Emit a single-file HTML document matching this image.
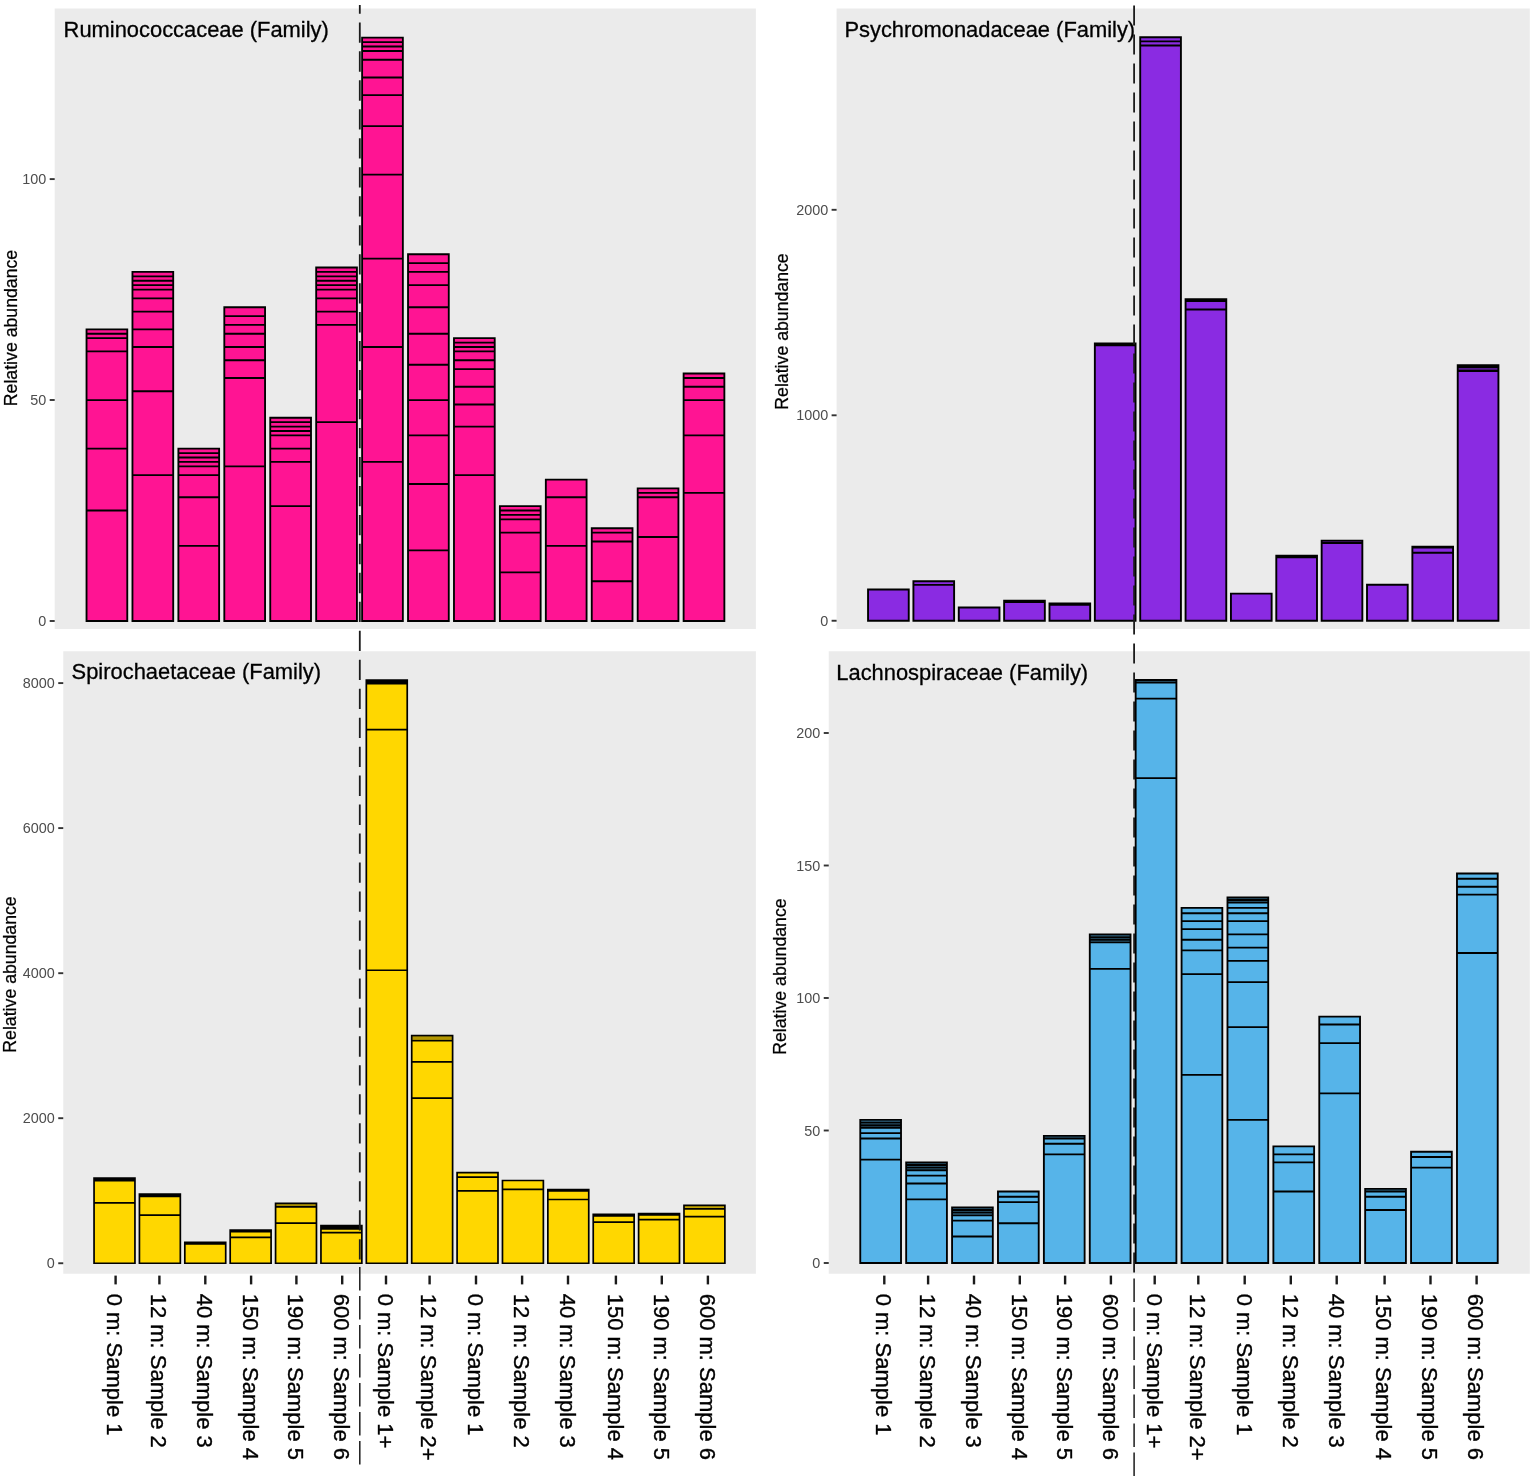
<!DOCTYPE html>
<html lang="en">
<head>
<meta charset="utf-8">
<title>Relative abundance by family</title>
<style>
html,body{margin:0;padding:0;background:#fff;}
body{width:1535px;height:1480px;overflow:hidden;}
svg{display:block;}
text{font-family:"Liberation Sans",Arial,Helvetica,sans-serif;}
.ttl{font-size:21.9px;fill:#000;stroke:#000;stroke-width:0.3px;}
.xl{font-size:22px;fill:#000;stroke:#000;stroke-width:0.35px;}
.yt{font-size:14.4px;fill:#4D4D4D;}
.yl{font-size:17.7px;fill:#000;stroke:#000;stroke-width:0.25px;}
</style>
</head>
<body>
<svg width="1535" height="1480" viewBox="0 0 1535 1480">
<rect width="1535" height="1480" fill="#fff"/>
<!-- panel 1 -->
<rect x="54.7" y="8.5" width="701.2" height="620.5" fill="#EBEBEB"/>
<g fill="#FF1493" stroke="#000" stroke-width="1.85" stroke-linejoin="miter">
<path d="M86.53 329.35H127.28V621H86.53ZM86.53 333.77H127.28M86.53 338.18H127.28M86.53 351.44H127.28M86.53 400.05H127.28M86.53 448.66H127.28M86.53 510.52H127.28"/>
<path d="M132.46 271.9H173.21V621H132.46ZM132.46 276.32H173.21M132.46 280.74H173.21M132.46 285.16H173.21M132.46 289.58H173.21M132.46 298.41H173.21M132.46 311.67H173.21M132.46 329.35H173.21M132.46 347.02H173.21M132.46 391.21H173.21M132.46 475.17H173.21"/>
<path d="M178.38 448.66H219.13V621H178.38ZM178.38 453.08H219.13M178.38 457.5H219.13M178.38 461.92H219.13M178.38 466.34H219.13M178.38 475.17H219.13M178.38 497.27H219.13M178.38 545.88H219.13"/>
<path d="M224.31 307.25H265.06V621H224.31ZM224.31 316.09H265.06M224.31 324.93H265.06M224.31 333.77H265.06M224.31 347.02H265.06M224.31 360.28H265.06M224.31 377.96H265.06M224.31 466.34H265.06"/>
<path d="M270.25 417.73H311V621H270.25ZM270.25 422.14H311M270.25 426.56H311M270.25 430.98H311M270.25 435.4H311M270.25 448.66H311M270.25 461.92H311M270.25 506.11H311"/>
<path d="M316.18 267.48H356.93V621H316.18ZM316.18 271.9H356.93M316.18 276.32H356.93M316.18 280.74H356.93M316.18 285.16H356.93M316.18 289.58H356.93M316.18 298.41H356.93M316.18 311.67H356.93M316.18 324.93H356.93M316.18 422.14H356.93"/>
<path d="M362.11 37.69H402.86V621H362.11ZM362.11 42.11H402.86M362.11 46.53H402.86M362.11 50.95H402.86M362.11 59.79H402.86M362.11 77.46H402.86M362.11 95.14H402.86M362.11 126.07H402.86M362.11 174.68H402.86M362.11 258.64H402.86M362.11 347.02H402.86M362.11 461.92H402.86"/>
<path d="M408.03 254.22H448.78V621H408.03ZM408.03 263.06H448.78M408.03 271.9H448.78M408.03 285.16H448.78M408.03 307.25H448.78M408.03 333.77H448.78M408.03 364.7H448.78M408.03 400.05H448.78M408.03 435.4H448.78M408.03 484.01H448.78M408.03 550.3H448.78"/>
<path d="M453.97 338.18H494.72V621H453.97ZM453.97 342.6H494.72M453.97 347.02H494.72M453.97 351.44H494.72M453.97 360.28H494.72M453.97 369.12H494.72M453.97 386.79H494.72M453.97 404.47H494.72M453.97 426.56H494.72M453.97 475.17H494.72"/>
<path d="M499.89 506.11H540.64V621H499.89ZM499.89 510.52H540.64M499.89 514.94H540.64M499.89 519.36H540.64M499.89 532.62H540.64M499.89 572.39H540.64"/>
<path d="M545.83 479.59H586.58V621H545.83ZM545.83 497.27H586.58M545.83 545.88H586.58"/>
<path d="M591.75 528.2H632.5V621H591.75ZM591.75 532.62H632.5M591.75 541.46H632.5M591.75 581.23H632.5"/>
<path d="M637.68 488.43H678.43V621H637.68ZM637.68 492.85H678.43M637.68 497.27H678.43M637.68 537.04H678.43"/>
<path d="M683.62 373.54H724.37V621H683.62ZM683.62 377.96H724.37M683.62 386.79H724.37M683.62 400.05H724.37M683.62 435.4H724.37M683.62 492.85H724.37"/>
</g>
<text class="ttl" x="63.6" y="37.1">Ruminococcaceae (Family)</text>
<line x1="49.7" x2="54.7" y1="621" y2="621" stroke="#333" stroke-width="1.9"/>
<text class="yt" x="46.3" y="626" text-anchor="end">0</text>
<line x1="49.7" x2="54.7" y1="400" y2="400" stroke="#333" stroke-width="1.9"/>
<text class="yt" x="46.3" y="405" text-anchor="end">50</text>
<line x1="49.7" x2="54.7" y1="179.1" y2="179.1" stroke="#333" stroke-width="1.9"/>
<text class="yt" x="46.3" y="184.1" text-anchor="end">100</text>
<text class="yl" transform="translate(17.3 328) rotate(-90)" text-anchor="middle">Relative abundance</text>
<!-- panel 2 -->
<rect x="836.6" y="8.5" width="693.2" height="620.5" fill="#EBEBEB"/>
<g fill="#8A2BE2" stroke="#000" stroke-width="1.9" stroke-linejoin="miter">
<path d="M868.05 589.5H908.75V620.75H868.05Z"/>
<path d="M913.41 581.3H954.11V620.75H913.41ZM913.41 584.85H954.11"/>
<path d="M958.77 607.5H999.47V620.75H958.77Z"/>
<path d="M1004.13 600.7H1044.83V620.75H1004.13ZM1004.13 602H1044.83"/>
<path d="M1049.49 603.5H1090.19V620.75H1049.49ZM1049.49 604.7H1090.19"/>
<path d="M1094.85 343.5H1135.55V620.75H1094.85ZM1094.85 345.3H1135.55"/>
<path d="M1140.21 37.3H1180.91V620.75H1140.21ZM1140.21 41.4H1180.91M1140.21 45.5H1180.91"/>
<path d="M1185.57 299.2H1226.27V620.75H1185.57ZM1185.57 301H1226.27M1185.57 309.5H1226.27"/>
<path d="M1230.93 593.6H1271.63V620.75H1230.93Z"/>
<path d="M1276.29 555.6H1316.99V620.75H1276.29ZM1276.29 557.2H1316.99"/>
<path d="M1321.65 540.6H1362.35V620.75H1321.65ZM1321.65 543H1362.35"/>
<path d="M1321.65 541.8H1362.35" stroke-width="0.7" stroke-opacity="0.6"/>
<path d="M1367.01 584.7H1407.71V620.75H1367.01Z"/>
<path d="M1412.37 546.6H1453.07V620.75H1412.37ZM1412.37 547.6H1453.07M1412.37 552.7H1453.07"/>
<path d="M1457.73 365.2H1498.43V620.75H1457.73ZM1457.73 367H1498.43M1457.73 371H1498.43"/>
<path d="M1457.73 369.1H1498.43" stroke-width="1.9" stroke-opacity="0.5"/>
</g>
<text class="ttl" x="844.4" y="37.1">Psychromonadaceae (Family)</text>
<line x1="831.6" x2="836.6" y1="620.75" y2="620.75" stroke="#333" stroke-width="1.9"/>
<text class="yt" x="828.2" y="625.75" text-anchor="end">0</text>
<line x1="831.6" x2="836.6" y1="415.3" y2="415.3" stroke="#333" stroke-width="1.9"/>
<text class="yt" x="828.2" y="420.3" text-anchor="end">1000</text>
<line x1="831.6" x2="836.6" y1="209.8" y2="209.8" stroke="#333" stroke-width="1.9"/>
<text class="yt" x="828.2" y="214.8" text-anchor="end">2000</text>
<text class="yl" transform="translate(788 331.5) rotate(-90)" text-anchor="middle">Relative abundance</text>
<!-- panel 3 -->
<rect x="63.25" y="651.25" width="692.65" height="622.5" fill="#EBEBEB"/>
<g fill="#FFD700" stroke="#000" stroke-width="1.7" stroke-linejoin="miter">
<path d="M94.05 1178.1H134.95V1263.25H94.05ZM94.05 1179.4H134.95M94.05 1180.6H134.95M94.05 1202.8H134.95"/>
<path d="M139.43 1194.1H180.33V1263.25H139.43ZM139.43 1195.3H180.33M139.43 1196.4H180.33M139.43 1215.1H180.33"/>
<path d="M184.81 1242.4H225.71V1263.25H184.81ZM184.81 1243.8H225.71"/>
<path d="M230.19 1230.1H271.09V1263.25H230.19ZM230.19 1231.7H271.09M230.19 1237.4H271.09"/>
<path d="M275.57 1203.4H316.47V1263.25H275.57ZM275.57 1206.9H316.47M275.57 1223.2H316.47"/>
<path d="M275.57 1205.1H316.47" stroke-width="1.6" stroke-opacity="0.35"/>
<path d="M320.95 1225.6H361.85V1263.25H320.95ZM320.95 1227.2H361.85M320.95 1228.8H361.85M320.95 1232.6H361.85"/>
<path d="M366.33 680.2H407.23V1263.25H366.33ZM366.33 681.9H407.23M366.33 683.6H407.23M366.33 729.6H407.23M366.33 970.25H407.23"/>
<path d="M411.71 1035.6H452.61V1263.25H411.71ZM411.71 1040.6H452.61M411.71 1061.9H452.61M411.71 1098.2H452.61"/>
<path d="M411.71 1038.1H452.61" stroke-width="3" stroke-opacity="0.3"/>
<path d="M457.09 1172.7H497.99V1263.25H457.09ZM457.09 1177.2H497.99M457.09 1190.9H497.99"/>
<path d="M502.47 1180.5H543.37V1263.25H502.47ZM502.47 1189.3H543.37"/>
<path d="M547.85 1189.6H588.75V1263.25H547.85ZM547.85 1190.8H588.75M547.85 1199.5H588.75"/>
<path d="M593.23 1214.4H634.13V1263.25H593.23ZM593.23 1215.8H634.13M593.23 1222.1H634.13"/>
<path d="M638.61 1213.5H679.51V1263.25H638.61ZM638.61 1215H679.51M638.61 1219.6H679.51"/>
<path d="M683.99 1205.3H724.89V1263.25H683.99ZM683.99 1208.9H724.89M683.99 1216.7H724.89"/>
<path d="M683.99 1207H724.89" stroke-width="1.6" stroke-opacity="0.3"/>
</g>
<text class="ttl" x="71.6" y="679.3">Spirochaetaceae (Family)</text>
<line x1="58.25" x2="63.25" y1="1263.25" y2="1263.25" stroke="#333" stroke-width="1.9"/>
<text class="yt" x="54.85" y="1268.25" text-anchor="end">0</text>
<line x1="58.25" x2="63.25" y1="1118.2" y2="1118.2" stroke="#333" stroke-width="1.9"/>
<text class="yt" x="54.85" y="1123.2" text-anchor="end">2000</text>
<line x1="58.25" x2="63.25" y1="973.2" y2="973.2" stroke="#333" stroke-width="1.9"/>
<text class="yt" x="54.85" y="978.2" text-anchor="end">4000</text>
<line x1="58.25" x2="63.25" y1="828.1" y2="828.1" stroke="#333" stroke-width="1.9"/>
<text class="yt" x="54.85" y="833.1" text-anchor="end">6000</text>
<line x1="58.25" x2="63.25" y1="683.1" y2="683.1" stroke="#333" stroke-width="1.9"/>
<text class="yt" x="54.85" y="688.1" text-anchor="end">8000</text>
<text class="yl" transform="translate(16.2 974.5) rotate(-90)" text-anchor="middle">Relative abundance</text>
<!-- panel 4 -->
<rect x="828.75" y="651.25" width="701.05" height="622.5" fill="#EBEBEB"/>
<g fill="#56B4E9" stroke="#000" stroke-width="1.85" stroke-linejoin="miter">
<path d="M860.27 1119.9H901.02V1263H860.27ZM860.27 1122.55H901.02M860.27 1125.2H901.02M860.27 1127.85H901.02M860.27 1133.15H901.02M860.27 1138.45H901.02M860.27 1159.65H901.02"/>
<path d="M860.27 1121.22H901.02" stroke-width="1" stroke-opacity="0.6"/>
<path d="M860.27 1123.88H901.02" stroke-width="1" stroke-opacity="0.6"/>
<path d="M860.27 1126.53H901.02" stroke-width="1" stroke-opacity="0.6"/>
<path d="M906.17 1162.3H946.92V1263H906.17ZM906.17 1164.95H946.92M906.17 1167.6H946.92M906.17 1170.25H946.92M906.17 1175.55H946.92M906.17 1183.5H946.92M906.17 1199.4H946.92"/>
<path d="M906.17 1163.62H946.92" stroke-width="1" stroke-opacity="0.6"/>
<path d="M906.17 1166.28H946.92" stroke-width="1" stroke-opacity="0.6"/>
<path d="M906.17 1168.92H946.92" stroke-width="1" stroke-opacity="0.6"/>
<path d="M952.07 1207.35H992.82V1263H952.07ZM952.07 1210H992.82M952.07 1212.65H992.82M952.07 1215.3H992.82M952.07 1220.6H992.82M952.07 1236.5H992.82"/>
<path d="M952.07 1208.67H992.82" stroke-width="1" stroke-opacity="0.6"/>
<path d="M952.07 1211.33H992.82" stroke-width="1" stroke-opacity="0.6"/>
<path d="M952.07 1213.97H992.82" stroke-width="1" stroke-opacity="0.6"/>
<path d="M997.97 1191.45H1038.72V1263H997.97ZM997.97 1196.75H1038.72M997.97 1202.05H1038.72M997.97 1223.25H1038.72"/>
<path d="M1043.88 1135.8H1084.62V1263H1043.88ZM1043.88 1138.45H1084.62M1043.88 1143.75H1084.62M1043.88 1154.35H1084.62"/>
<path d="M1043.88 1137.12H1084.62" stroke-width="1" stroke-opacity="0.6"/>
<path d="M1089.78 934.4H1130.53V1263H1089.78ZM1089.78 937.05H1130.53M1089.78 939.7H1130.53M1089.78 942.35H1130.53M1089.78 968.85H1130.53"/>
<path d="M1089.78 935.73H1130.53" stroke-width="1" stroke-opacity="0.6"/>
<path d="M1089.78 938.38H1130.53" stroke-width="1" stroke-opacity="0.6"/>
<path d="M1089.78 941.03H1130.53" stroke-width="1" stroke-opacity="0.6"/>
<path d="M1135.67 680H1176.42V1263H1135.67ZM1135.67 682.65H1176.42M1135.67 698.55H1176.42M1135.67 778.05H1176.42"/>
<path d="M1135.67 681.33H1176.42" stroke-width="1" stroke-opacity="0.6"/>
<path d="M1181.58 907.9H1222.33V1263H1181.58ZM1181.58 913.2H1222.33M1181.58 921.15H1222.33M1181.58 929.1H1222.33M1181.58 939.7H1222.33M1181.58 950.3H1222.33M1181.58 974.15H1222.33M1181.58 1074.85H1222.33"/>
<path d="M1227.47 897.3H1268.22V1263H1227.47ZM1227.47 899.95H1268.22M1227.47 902.6H1268.22M1227.47 907.9H1268.22M1227.47 913.2H1268.22M1227.47 921.15H1268.22M1227.47 934.4H1268.22M1227.47 947.65H1268.22M1227.47 960.9H1268.22M1227.47 982.1H1268.22M1227.47 1027.15H1268.22M1227.47 1119.9H1268.22"/>
<path d="M1227.47 898.62H1268.22" stroke-width="1" stroke-opacity="0.6"/>
<path d="M1227.47 901.28H1268.22" stroke-width="1" stroke-opacity="0.6"/>
<path d="M1273.38 1146.4H1314.12V1263H1273.38ZM1273.38 1154.35H1314.12M1273.38 1162.3H1314.12M1273.38 1191.45H1314.12"/>
<path d="M1319.28 1016.55H1360.03V1263H1319.28ZM1319.28 1024.5H1360.03M1319.28 1043.05H1360.03M1319.28 1093.4H1360.03"/>
<path d="M1365.17 1188.8H1405.92V1263H1365.17ZM1365.17 1191.45H1405.92M1365.17 1196.75H1405.92M1365.17 1210H1405.92"/>
<path d="M1365.17 1190.12H1405.92" stroke-width="1" stroke-opacity="0.6"/>
<path d="M1411.07 1151.7H1451.82V1263H1411.07ZM1411.07 1157H1451.82M1411.07 1167.6H1451.82"/>
<path d="M1456.97 873.45H1497.72V1263H1456.97ZM1456.97 878.75H1497.72M1456.97 886.7H1497.72M1456.97 894.65H1497.72M1456.97 952.95H1497.72"/>
</g>
<text class="ttl" x="836.3" y="679.5">Lachnospiraceae (Family)</text>
<line x1="823.75" x2="828.75" y1="1263" y2="1263" stroke="#333" stroke-width="1.9"/>
<text class="yt" x="820.35" y="1268" text-anchor="end">0</text>
<line x1="823.75" x2="828.75" y1="1130.5" y2="1130.5" stroke="#333" stroke-width="1.9"/>
<text class="yt" x="820.35" y="1135.5" text-anchor="end">50</text>
<line x1="823.75" x2="828.75" y1="998" y2="998" stroke="#333" stroke-width="1.9"/>
<text class="yt" x="820.35" y="1003" text-anchor="end">100</text>
<line x1="823.75" x2="828.75" y1="865.5" y2="865.5" stroke="#333" stroke-width="1.9"/>
<text class="yt" x="820.35" y="870.5" text-anchor="end">150</text>
<line x1="823.75" x2="828.75" y1="733" y2="733" stroke="#333" stroke-width="1.9"/>
<text class="yt" x="820.35" y="738" text-anchor="end">200</text>
<text class="yl" transform="translate(786.4 976.6) rotate(-90)" text-anchor="middle">Relative abundance</text>
<!-- x axes -->
<line x1="115.6" x2="115.6" y1="1275.6" y2="1284.4" stroke="#1a1a1a" stroke-width="2.4"/>
<text class="xl" transform="translate(107.4 1293.7) rotate(90)">0 m: Sample 1</text>
<line x1="159.4" x2="159.4" y1="1275.6" y2="1284.4" stroke="#1a1a1a" stroke-width="2.4"/>
<text class="xl" transform="translate(151.2 1293.7) rotate(90)">12 m: Sample 2</text>
<line x1="205.3" x2="205.3" y1="1275.6" y2="1284.4" stroke="#1a1a1a" stroke-width="2.4"/>
<text class="xl" transform="translate(197.1 1293.7) rotate(90)">40 m: Sample 3</text>
<line x1="251.1" x2="251.1" y1="1275.6" y2="1284.4" stroke="#1a1a1a" stroke-width="2.4"/>
<text class="xl" transform="translate(242.9 1293.7) rotate(90)">150 m: Sample 4</text>
<line x1="296.4" x2="296.4" y1="1275.6" y2="1284.4" stroke="#1a1a1a" stroke-width="2.4"/>
<text class="xl" transform="translate(288.2 1293.7) rotate(90)">190 m: Sample 5</text>
<line x1="342.2" x2="342.2" y1="1275.6" y2="1284.4" stroke="#1a1a1a" stroke-width="2.4"/>
<text class="xl" transform="translate(334 1293.7) rotate(90)">600 m: Sample 6</text>
<line x1="386" x2="386" y1="1275.6" y2="1284.4" stroke="#1a1a1a" stroke-width="2.4"/>
<text class="xl" transform="translate(377.8 1293.7) rotate(90)">0 m: Sample 1+</text>
<line x1="429.6" x2="429.6" y1="1275.6" y2="1284.4" stroke="#1a1a1a" stroke-width="2.4"/>
<text class="xl" transform="translate(421.4 1293.7) rotate(90)">12 m: Sample 2+</text>
<line x1="476" x2="476" y1="1275.6" y2="1284.4" stroke="#1a1a1a" stroke-width="2.4"/>
<text class="xl" transform="translate(467.8 1293.7) rotate(90)">0 m: Sample 1</text>
<line x1="522.1" x2="522.1" y1="1275.6" y2="1284.4" stroke="#1a1a1a" stroke-width="2.4"/>
<text class="xl" transform="translate(513.9 1293.7) rotate(90)">12 m: Sample 2</text>
<line x1="568" x2="568" y1="1275.6" y2="1284.4" stroke="#1a1a1a" stroke-width="2.4"/>
<text class="xl" transform="translate(559.8 1293.7) rotate(90)">40 m: Sample 3</text>
<line x1="615.9" x2="615.9" y1="1275.6" y2="1284.4" stroke="#1a1a1a" stroke-width="2.4"/>
<text class="xl" transform="translate(607.7 1293.7) rotate(90)">150 m: Sample 4</text>
<line x1="661.8" x2="661.8" y1="1275.6" y2="1284.4" stroke="#1a1a1a" stroke-width="2.4"/>
<text class="xl" transform="translate(653.6 1293.7) rotate(90)">190 m: Sample 5</text>
<line x1="707.9" x2="707.9" y1="1275.6" y2="1284.4" stroke="#1a1a1a" stroke-width="2.4"/>
<text class="xl" transform="translate(699.7 1293.7) rotate(90)">600 m: Sample 6</text>
<line x1="884.3" x2="884.3" y1="1275.6" y2="1284.4" stroke="#1a1a1a" stroke-width="2.4"/>
<text class="xl" transform="translate(876.1 1293.7) rotate(90)">0 m: Sample 1</text>
<line x1="928.1" x2="928.1" y1="1275.6" y2="1284.4" stroke="#1a1a1a" stroke-width="2.4"/>
<text class="xl" transform="translate(919.9 1293.7) rotate(90)">12 m: Sample 2</text>
<line x1="974" x2="974" y1="1275.6" y2="1284.4" stroke="#1a1a1a" stroke-width="2.4"/>
<text class="xl" transform="translate(965.8 1293.7) rotate(90)">40 m: Sample 3</text>
<line x1="1019.8" x2="1019.8" y1="1275.6" y2="1284.4" stroke="#1a1a1a" stroke-width="2.4"/>
<text class="xl" transform="translate(1011.6 1293.7) rotate(90)">150 m: Sample 4</text>
<line x1="1065.1" x2="1065.1" y1="1275.6" y2="1284.4" stroke="#1a1a1a" stroke-width="2.4"/>
<text class="xl" transform="translate(1056.9 1293.7) rotate(90)">190 m: Sample 5</text>
<line x1="1110.9" x2="1110.9" y1="1275.6" y2="1284.4" stroke="#1a1a1a" stroke-width="2.4"/>
<text class="xl" transform="translate(1102.7 1293.7) rotate(90)">600 m: Sample 6</text>
<line x1="1154.7" x2="1154.7" y1="1275.6" y2="1284.4" stroke="#1a1a1a" stroke-width="2.4"/>
<text class="xl" transform="translate(1146.5 1293.7) rotate(90)">0 m: Sample 1+</text>
<line x1="1198.3" x2="1198.3" y1="1275.6" y2="1284.4" stroke="#1a1a1a" stroke-width="2.4"/>
<text class="xl" transform="translate(1190.1 1293.7) rotate(90)">12 m: Sample 2+</text>
<line x1="1244.7" x2="1244.7" y1="1275.6" y2="1284.4" stroke="#1a1a1a" stroke-width="2.4"/>
<text class="xl" transform="translate(1236.5 1293.7) rotate(90)">0 m: Sample 1</text>
<line x1="1290.8" x2="1290.8" y1="1275.6" y2="1284.4" stroke="#1a1a1a" stroke-width="2.4"/>
<text class="xl" transform="translate(1282.6 1293.7) rotate(90)">12 m: Sample 2</text>
<line x1="1336.7" x2="1336.7" y1="1275.6" y2="1284.4" stroke="#1a1a1a" stroke-width="2.4"/>
<text class="xl" transform="translate(1328.5 1293.7) rotate(90)">40 m: Sample 3</text>
<line x1="1384.6" x2="1384.6" y1="1275.6" y2="1284.4" stroke="#1a1a1a" stroke-width="2.4"/>
<text class="xl" transform="translate(1376.4 1293.7) rotate(90)">150 m: Sample 4</text>
<line x1="1430.5" x2="1430.5" y1="1275.6" y2="1284.4" stroke="#1a1a1a" stroke-width="2.4"/>
<text class="xl" transform="translate(1422.3 1293.7) rotate(90)">190 m: Sample 5</text>
<line x1="1476.6" x2="1476.6" y1="1275.6" y2="1284.4" stroke="#1a1a1a" stroke-width="2.4"/>
<text class="xl" transform="translate(1468.4 1293.7) rotate(90)">600 m: Sample 6</text>
<!-- dashed separators -->
<g stroke="#1c1c1c" stroke-width="1.8" fill="none">
<path d="M359.8 5V1266" stroke-dasharray="20.3 8.67" stroke-dashoffset="11.57"/>
<path d="M359.8 1267.1V1464.5" stroke-width="1.5" stroke-dasharray="23.4 5.6"/>
<path d="M1134.1 5.5V1273.4" stroke-dasharray="20 9"/>
<path d="M1134.1 1278.6V1476.3" stroke-width="1.5" stroke-dasharray="23.4 5.6"/>
</g>
</svg>
</body>
</html>
